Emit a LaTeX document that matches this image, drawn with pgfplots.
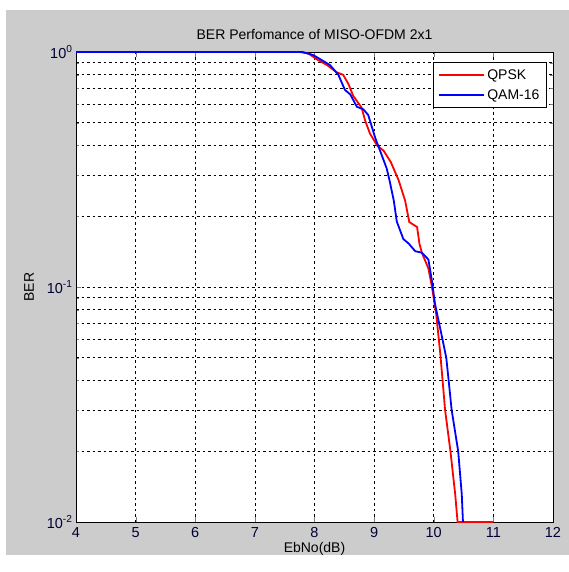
\documentclass[border=0pt]{standalone}
\usepackage{pgfplots}
\pgfplotsset{compat=1.18}
\usepackage{fontspec}
\setmainfont{Liberation Sans}

\definecolor{figgray}{RGB}{204,204,204}

\begin{document}
\begin{tikzpicture}[x=1pt,y=1pt]
  \useasboundingbox (0,0) rectangle (569,572);
  \fill[white] (0,0) rectangle (569,572);
  \fill[figgray] (6,17) rectangle (569,562);
  \begin{axis}[
    at={(76pt,50pt)}, anchor=south west,
    width=477pt, height=470pt, scale only axis,
    axis background/.style={fill=white},
    ymode=log,
    xmin=4, xmax=12, ymin=0.01, ymax=1,
    xtick={4,5,...,12},
    ytick={0.01,0.1,1},
    yticklabels={10\textsuperscript{-2},10\textsuperscript{-1},10\textsuperscript{0}},
    tick align=inside,
    major tick length=5pt, minor tick length=3pt,
    grid=both,
    major grid style={black, dash pattern=on 2.5pt off 3pt, line width=0.6pt},
    minor grid style={black, dash pattern=on 2.5pt off 3pt, line width=0.6pt},
    minor x tick num=0,
    axis line style={black, line width=0.8pt},
    ticklabel style={font=\fontsize{14.5}{16}\selectfont, text=black!80!blue},
    xticklabel style={yshift=-2pt},
    /pgf/number format/assume math mode=true,
    title={BER Perfomance of MISO-OFDM 2x1},
    title style={font=\fontsize{14}{16}\selectfont, yshift=3pt},
    xlabel={EbNo(dB)}, ylabel={BER},
    label style={font=\fontsize{14}{16}\selectfont},
    xlabel style={yshift=2pt},
    ylabel style={yshift=6pt},
    clip=false,
    legend style={at={(0.987,0.979)}, anchor=north east,
      font=\fontsize{14}{16}\selectfont, draw=black, line width=0.8pt,
      row sep=5pt, inner xsep=5pt, inner ysep=5pt},
    legend cell align=left,
    legend image code/.code={\draw[#1, line width=2pt] (0pt,0pt) -- (45pt,0pt);},
  ]
    \addplot[red, line width=1.8pt] coordinates {
      (4,1)(7.75,1)(7.9,0.985)(8.04,0.93)(8.21,0.88)(8.37,0.82)(8.48,0.80)
      (8.57,0.73)(8.65,0.65)(8.79,0.58)(8.85,0.51)(8.93,0.45)(9.05,0.40)
      (9.16,0.38)(9.28,0.34)(9.41,0.285)(9.52,0.233)(9.59,0.189)(9.72,0.18)
      (9.76,0.153)(9.80,0.14)(9.91,0.12)(9.97,0.10)(10.04,0.077)(10.11,0.052)
      (10.19,0.030)(10.28,0.020)(10.36,0.0131)(10.40,0.01)(11,0.01)
    };
    \addlegendentry{QPSK}
    \addplot[blue, line width=1.8pt] coordinates {
      (4,1)(7.8,1)(7.98,0.97)(8.26,0.88)(8.40,0.80)(8.51,0.69)(8.60,0.66)
      (8.71,0.585)(8.82,0.57)(8.90,0.54)(9.02,0.43)(9.10,0.38)(9.21,0.32)
      (9.26,0.283)(9.33,0.233)(9.38,0.19)(9.49,0.16)(9.58,0.153)(9.69,0.142)
      (9.80,0.14)(9.91,0.131)(9.97,0.106)(10.02,0.085)(10.14,0.061)(10.21,0.050)
      (10.25,0.040)(10.30,0.030)(10.41,0.020)(10.47,0.0131)(10.49,0.01)
    };
    \addlegendentry{QAM-16}
  \end{axis}
\end{tikzpicture}
\end{document}
